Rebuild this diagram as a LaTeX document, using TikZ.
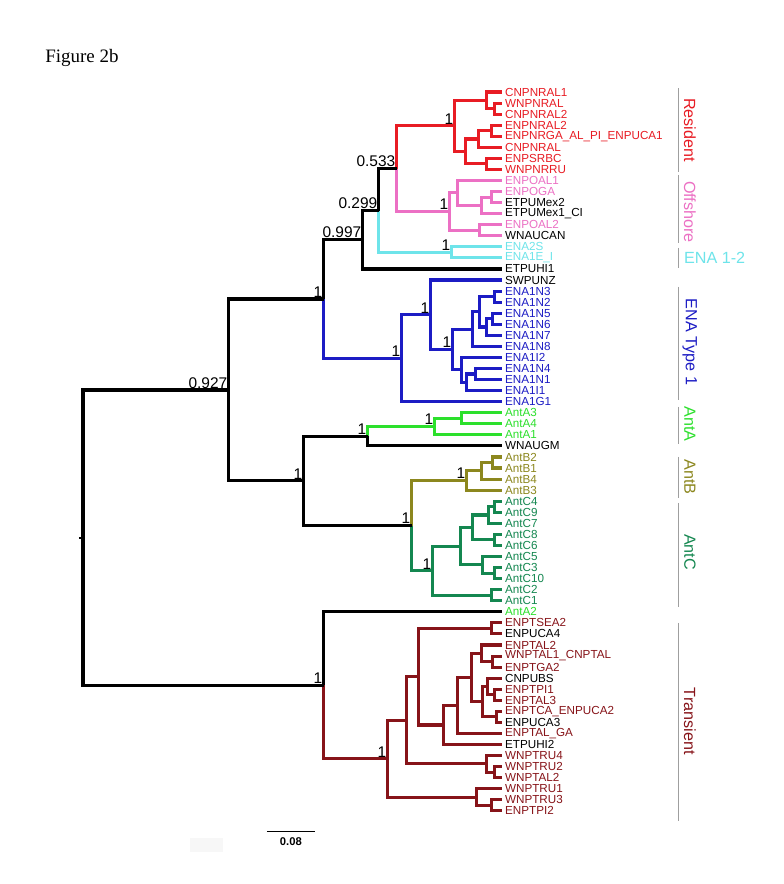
\documentclass[tikz,border=0pt]{standalone}
\usepackage{fontspec}
\setmainfont{Liberation Sans}
\newfontfamily\figfont{Liberation Serif}
\usetikzlibrary{positioning}

\definecolor{colres}{RGB}{232,28,36}
\definecolor{coloff}{RGB}{236,112,196}
\definecolor{colena}{RGB}{110,228,234}
\definecolor{colone}{RGB}{28,28,196}
\definecolor{colanta}{RGB}{44,224,44}
\definecolor{colantb}{RGB}{140,135,30}
\definecolor{colantc}{RGB}{20,135,80}
\definecolor{coltra}{RGB}{135,20,25}

\tikzset{
  br/.style={line width=2.2pt},
  leaf/.style={anchor=west,inner sep=0pt,font=\fontsize{8.3}{8.5}\selectfont},
  sup/.style={anchor=south east,inner sep=1pt,font=\fontsize{11}{12}\selectfont},
  grp/.style={inner sep=0pt,font=\fontsize{11.5}{12}\selectfont},
  grpline/.style={gray!75,line width=0.7pt}
}

\begin{document}
\begin{tikzpicture}[x=0.025cm,y=-0.2765cm]
  \fill[white](0,-7.318)rectangle(784,72.61);
  \useasboundingbox(0,-7.318)rectangle(784,72.61);
  \node[anchor=west,inner sep=0pt,font=\figfont\fontsize{13.5}{14}\selectfont](title)at(45,-2.07){Figure 2b};

  % leaves
  \foreach \i/\lab/\col in {1/CNPNRAL1/colres,2/WNPNRAL/colres,3/CNPNRAL2/colres,
    4/ENPNRAL2/colres,5/ENPNRGA\_AL\_PI\_ENPUCA1/colres,6/CNPNRAL/colres,
    7/ENPSRBC/colres,8/WNPNRRU/colres,9/ENPOAL1/coloff,10/ENPOGA/coloff,
    11/ETPUMex2/black,12/ETPUMex1\_CI/black,13/ENPOAL2/coloff,14/WNAUCAN/black,
    15/ENA2S/colena,16/ENA1E\_I/colena,17/ETPUHI1/black,18/SWPUNZ/black,
    19/ENA1N3/colone,20/ENA1N2/colone,21/ENA1N5/colone,22/ENA1N6/colone,
    23/ENA1N7/colone,24/ENA1N8/colone,25/ENA1I2/colone,26/ENA1N4/colone,
    27/ENA1N1/colone,28/ENA1I1/colone,29/ENA1G1/colone,
    30/AntA3/colanta,31/AntA4/colanta,32/AntA1/colanta,33/WNAUGM/black,
    34/AntB2/colantb,35/AntB1/colantb,36/AntB4/colantb,37/AntB3/colantb,
    38/AntC4/colantc,39/AntC9/colantc,40/AntC7/colantc,41/AntC8/colantc,
    42/AntC6/colantc,43/AntC5/colantc,44/AntC3/colantc,45/AntC10/colantc,
    46/AntC2/colantc,47/AntC1/colantc,48/AntA2/colanta,
    49/ENPTSEA2/coltra,50/ENPUCA4/black,51/ENPTAL2/coltra,
    52/WNPTAL1\_CNPTAL/coltra,53/ENPTGA2/coltra,54/CNPUBS/black,
    55/ENPTPI1/coltra,56/ENPTAL3/coltra,57/ENPTCA\_ENPUCA2/coltra,
    58/ENPUCA3/black,59/ENPTAL\_GA/coltra,60/ETPUHI2/black,
    61/WNPTRU4/coltra,62/WNPTRU2/coltra,63/WNPTAL2/coltra,
    64/WNPTRU1/coltra,65/WNPTRU3/coltra,66/ENPTPI2/coltra}{
    \coordinate(l\i)at(502,\i);
    \node[leaf,text=\col](t\i)at(505,\i){\lab};
  }

  % internal nodes
  \coordinate(r2)at(495,2.5);     \coordinate(r1)at(487,1.75);
  \coordinate(r4)at(492,4.5);     \coordinate(r3)at(479,5.25);
  \coordinate(r5)at(487,7.5);     \coordinate(r6)at(466,6.375);
  \coordinate(res)at(455,4.0625);
  \coordinate(o1)at(492,10.5);    \coordinate(o2)at(482,11.25);
  \coordinate(o3)at(458,10.125);  \coordinate(o4)at(480,13.5);
  \coordinate(off)at(450,11.8125);
  \coordinate(ena2)at(452,15.5);
  \coordinate(n533)at(397,7.9375);
  \coordinate(n299)at(379,11.71875);
  \coordinate(n997)at(363,14.359);
  \coordinate(e1)at(495,19.5);    \coordinate(e2)at(493,21.5);
  \coordinate(e3)at(487,22.25);   \coordinate(e4)at(480,20.875);
  \coordinate(e5)at(473,22.4375); \coordinate(e6)at(476,26.5);
  \coordinate(e7)at(467,27.25);   \coordinate(e8)at(462,26.125);
  \coordinate(e9)at(453,24.281);  \coordinate(e10)at(431,21.141);
  \coordinate(ena1)at(402,25.07);
  \coordinate(n1a)at(324,19.715);
  \coordinate(a1)at(462,30.5);    \coordinate(anta)at(435,31.25);
  \coordinate(n1b)at(368,32.125);
  \coordinate(b1)at(493,34.5);    \coordinate(b2)at(482,35.25);
  \coordinate(antb)at(467,36.125);
  \coordinate(c1)at(495,38.5);    \coordinate(c2)at(489,39.25);
  \coordinate(c3)at(495,41.5);    \coordinate(c4)at(473,40.375);
  \coordinate(c5)at(495,44.5);    \coordinate(c6)at(483,43.75);
  \coordinate(c7)at(461,42.0625); \coordinate(c8)at(492,46.5);
  \coordinate(antc)at(433,44.281);
  \coordinate(n1c)at(412,40.203);
  \coordinate(n1d)at(304,36.164);
  \coordinate(n927)at(229,27.94);
  \coordinate(t1)at(492,49.5);    \coordinate(t2)at(493,52.5);
  \coordinate(t3)at(482,51.75);   \coordinate(t4)at(495,55.5);
  \coordinate(t5)at(488,54.75);   \coordinate(t6)at(497,57.5);
  \coordinate(t7)at(483,56.125);  \coordinate(t8)at(472,53.9375);
  \coordinate(t9)at(458,56.469);  \coordinate(t10)at(444,58.234);
  \coordinate(t11)at(419,53.867); \coordinate(t12)at(495,62.5);
  \coordinate(t13)at(487,61.75);  \coordinate(t14)at(407,57.809);
  \coordinate(t15)at(492,65.5);   \coordinate(t16)at(477,64.75);
  \coordinate(tra)at(388,61.279);
  \coordinate(n1e)at(324,54.64);
  \coordinate(root)at(83,41.29);
  \coordinate(stub)at(79,41.29);

  % branches
  \begin{scope}[br,colres]
    \foreach \p/\c in {r2/l2,r2/l3,r1/l1,r1/r2,r4/l4,r4/l5,r3/r4,r3/l6,
      r5/l7,r5/l8,r6/r3,r6/r5,res/r1,res/r6,n533/res}
      \draw(\p)|-(\c);
  \end{scope}
  \begin{scope}[br,coloff]
    \foreach \p/\c in {o1/l10,o1/l11,o2/o1,o2/l12,o3/l9,o3/o2,o4/l13,o4/l14,
      off/o3,off/o4,n533/off}
      \draw(\p)|-(\c);
  \end{scope}
  \begin{scope}[br,colena]
    \foreach \p/\c in {ena2/l15,ena2/l16,n299/ena2}
      \draw(\p)|-(\c);
  \end{scope}
  \begin{scope}[br,colone]
    \foreach \p/\c in {e1/l19,e1/l20,e2/l21,e2/l22,e3/e2,e3/l23,e4/e1,e4/e3,
      e5/e4,e5/l24,e6/l26,e6/l27,e7/e6,e7/l28,e8/l25,e8/e7,e9/e5,e9/e8,
      e10/l18,e10/e9,ena1/e10,ena1/l29,n1a/ena1}
      \draw(\p)|-(\c);
  \end{scope}
  \begin{scope}[br,colanta]
    \foreach \p/\c in {a1/l30,a1/l31,anta/a1,anta/l32,n1b/anta}
      \draw(\p)|-(\c);
  \end{scope}
  \begin{scope}[br,colantb]
    \foreach \p/\c in {b1/l34,b1/l35,b2/b1,b2/l36,antb/b2,antb/l37,n1c/antb}
      \draw(\p)|-(\c);
  \end{scope}
  \begin{scope}[br,colantc]
    \foreach \p/\c in {c1/l38,c1/l39,c2/c1,c2/l40,c3/l41,c3/l42,c4/c2,c4/c3,
      c5/l44,c5/l45,c6/l43,c6/c5,c7/c4,c7/c6,c8/l46,c8/l47,antc/c7,antc/c8,
      n1c/antc}
      \draw(\p)|-(\c);
  \end{scope}
  \begin{scope}[br,coltra]
    \foreach \p/\c in {t1/l49,t1/l50,t2/l52,t2/l53,t3/l51,t3/t2,t4/l55,t4/l56,
      t5/l54,t5/t4,t6/l57,t6/l58,t7/t5,t7/t6,t8/t3,t8/t7,t9/t8,t9/l59,
      t10/t9,t10/l60,t11/t1,t11/t10,t12/l62,t12/l63,t13/l61,t13/t12,
      t14/t11,t14/t13,t15/l65,t15/l66,t16/l64,t16/t15,tra/t14,tra/t16,n1e/tra}
      \draw(\p)|-(\c);
  \end{scope}
  \begin{scope}[br,black]
    \foreach \p/\c in {n299/n533,n997/n299,n997/l17,n1a/n997,n1b/l33,
      n1d/n1b,n1d/n1c,n927/n1a,n927/n1d,n1e/l48,root/n927,root/n1e}
      \draw(\p)|-(\c);
    \draw[line width=1.4pt](stub)--(root);
  \end{scope}

  % support values
  \node[sup](s-res)at(res){1};
  \node[sup](s-off)at(off){1};
  \node[sup](s-ena2)at(ena2){1};
  \node[sup](s-n533)at(n533){0.533};
  \node[sup](s-n299)at(n299){0.299};
  \node[sup](s-n997)at(n997){0.997};
  \node[sup](s-e9)at(e9){1};
  \node[sup](s-e10)at(e10){1};
  \node[sup](s-ena1)at(ena1){1};
  \node[sup](s-n1a)at(n1a){1};
  \node[sup](s-n927)at(n927){0.927};
  \node[sup](s-anta)at(anta){1};
  \node[sup](s-n1b)at(n1b){1};
  \node[sup](s-antb)at(antb){1};
  \node[sup](s-n1c)at(n1c){1};
  \node[sup](s-antc)at(antc){1};
  \node[sup](s-n1d)at(n1d){1};
  \node[sup](s-tra)at(tra){1};
  \node[sup](s-n1e)at(n1e){1};

  % groups
  \foreach \a/\b in {0.64/8.23,8.5/14.65,15.1/16.91,18.63/28.85,29.48/32.83,
    34.0/37.71,38.16/47.56,49.01/66.91}
    \draw[grpline](679,\a)--(679,\b);
  \node[grp,rotate=-90,text=colres](g-res)at(690,4.44){Resident};
  \node[grp,rotate=-90,text=coloff](g-off)at(690,11.85){Offshore};
  \node[grp,anchor=west,text=colena](g-ena2)at(684,16.0){ENA 1-2};
  \node[grp,rotate=-90,text=colone](g-one)at(690,23.6){ENA Type 1};
  \node[grp,rotate=-90,text=colanta](g-anta)at(690,31.0){AntA};
  \node[grp,rotate=-90,text=colantb](g-antb)at(690,35.8){AntB};
  \node[grp,rotate=-90,text=colantc](g-antc)at(690,42.6){AntC};
  \node[grp,rotate=-90,text=coltra](g-tra)at(690,57.9){Transient};

  % scale
  \fill[gray!6](190,68.45)rectangle(223,69.72);
  \coordinate(sb1)at(267,67.9);
  \coordinate(sb2)at(315,67.9);
  \coordinate(sbm)at(291,67.9);
  \draw[line width=0.8pt](sb1)--(sb2);
  \node[inner sep=0pt,below=4pt of sbm,font=\fontsize{8}{9}\selectfont\bfseries](sblab){0.08};
\end{tikzpicture}
\end{document}
